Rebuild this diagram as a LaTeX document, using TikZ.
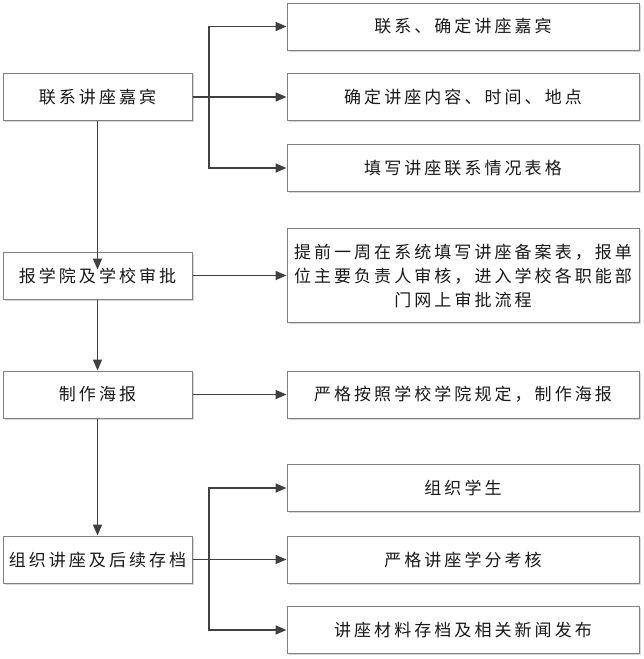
\documentclass[tikz,border=0pt]{standalone}
\usepackage{fontspec}
\setmainfont{Noto Sans CJK SC}[LetterSpace=18]
\usetikzlibrary{arrows.meta}
\usetikzlibrary{shadows}

\begin{document}
\begin{tikzpicture}[x=1pt,y=-1pt,
  box/.style={draw=black!50,line width=1pt,fill=white,inner sep=0pt,
    minimum height=47pt,text=black!90,font=\fontsize{17}{24}\selectfont,
    drop shadow={shadow xshift=1.5pt,shadow yshift=-1.5pt,fill=black!15,opacity=1}},
  lbox/.style={box,minimum width=189pt},
  rbox/.style={box,minimum width=352pt},
  flow/.style={draw=black!75,line width=1.7pt,-{Triangle[length=11pt,width=9pt]}}]
  \useasboundingbox (0,0) rectangle (644,659);
  % steps on the left
  \node[lbox] (lianxi) at (97.5,97) {联系讲座嘉宾};
  \node[lbox] (shenpi) at (97.5,275.5) {报学院及学校审批};
  \node[lbox] (haibao) at (97.5,394.5) {制作海报};
  \node[lbox] (zuzhi) at (97.5,559.5) {组织讲座及后续存档};
  % details on the right
  \node[rbox] (r1) at (463,26.5) {联系、确定讲座嘉宾};
  \node[rbox] (r2) at (463,97) {确定讲座内容、时间、地点};
  \node[rbox] (r3) at (463,168) {填写讲座联系情况表格};
  \node[rbox,minimum height=94pt,align=center] (r4) at (463,275.5)
    {提前一周在系统填写讲座备案表，报单\\位主要负责人审核，进入学校各职能部\\门网上审批流程};
  \node[rbox] (r5) at (463,394.5) {严格按照学校学院规定，制作海报};
  \node[rbox] (r6) at (463,488) {组织学生};
  \node[rbox] (r7) at (463,559.5) {严格讲座学分考核};
  \node[rbox] (r8) at (463,630) {讲座材料存档及相关新闻发布};
  \coordinate (b1) at (209,97);
  \coordinate (b4) at (209,559.5);

  \draw[flow,shorten >=-18pt] (lianxi) -- (shenpi);
  \draw[flow] (shenpi) -- (haibao);
  \draw[flow] (haibao) -- (zuzhi);
  \draw[flow] (lianxi.east) -- (b1) |- (r1.west);
  \draw[flow] (b1) |- (r3.west);
  \draw[flow] (lianxi) -- (r2);
  \draw[flow] (shenpi) -- (r4);
  \draw[flow] (haibao) -- (r5);
  \draw[flow] (zuzhi.east) -- (b4) |- (r6.west);
  \draw[flow] (b4) |- (r8.west);
  \draw[flow] (zuzhi) -- (r7);
\end{tikzpicture}
\end{document}
